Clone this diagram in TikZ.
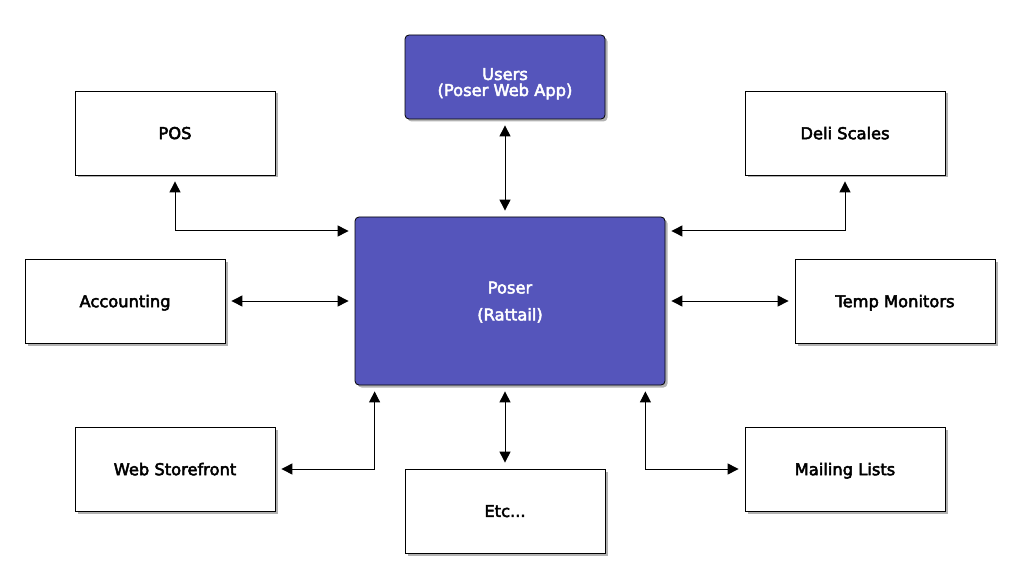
\documentclass[tikz,border=0pt]{standalone}
\usepackage{fontspec}
\setmainfont{DejaVu Sans}[BoldFont=DejaVu Sans, BoldFeatures={FakeBold=3}]
\usetikzlibrary{arrows.meta,shadows,positioning}

\definecolor{poserblue}{RGB}{85,85,187}

\begin{document}
\begin{tikzpicture}[x=1pt,y=-1pt,
    box/.style={draw, line width=0.8pt, fill=white,
      minimum width=200pt, minimum height=84pt, align=center,
      text depth=0pt, font=\fontsize{16.3}{14}\selectfont\bfseries,
      drop shadow={shadow xshift=2.5pt,shadow yshift=-2.5pt,opacity=0.6}},
    core/.style={box, fill=poserblue, text=white, rounded corners=4pt},
    link/.style={{Triangle[length=11pt,width=11pt]}-{Triangle[length=11pt,width=11pt]},
      line width=1pt, shorten >=6pt, shorten <=6pt}]
    % 余白を含めた全体の大きさ
    \fill [white] (0,0) rectangle (1020,588);
    \useasboundingbox (0,0) rectangle (1020,588);

    % 中央のシステム
    \node [core, minimum width=310pt, minimum height=168pt] (poser) at (510,301)
      {Poser\\[13pt](Rattail)};
    \node [core] (users) at (505,77) {\rule{0pt}{22pt}Users\\[2pt](Poser Web App)};

    % 周辺のシステム
    \node [box] (pos) at (175,133) {POS};
    \node [box] (deli) at (845,133) {Deli Scales};
    \node [box] (acct) at (125,301) {Accounting};
    \node [box] (temp) at (895,301) {Temp Monitors};
    \node [box] (web) at (175,469) {Web Storefront};
    \node [box] (etc) at (505,511) {Etc...};
    \node [box] (mail) at (845,469) {Mailing Lists};

    % 双方向の矢印
    \draw [link] (users.south) -- (users.south |- poser.north);
    \draw [link] (pos.south) |- ([yshift=70pt]poser.west);
    \draw [link] (deli.south) |- ([yshift=70pt]poser.east);
    \draw [link] (acct.east) -- (poser.west);
    \draw [link] (poser.east) -- (temp.west);
    \draw [link] (web.east) -| ([xshift=20pt]poser.south west);
    \draw [link] (etc.north |- poser.south) -- (etc.north);
    \draw [link] (mail.west) -| ([xshift=-20pt]poser.south east);
\end{tikzpicture}
\end{document}
